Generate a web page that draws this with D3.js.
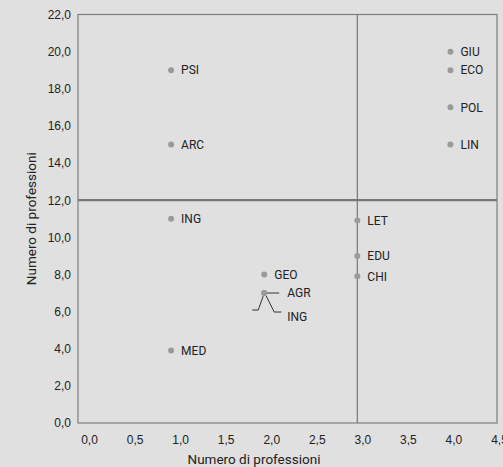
<!DOCTYPE html>
<html>
<head>
<meta charset="utf-8">
<script src="https://cdn.jsdelivr.net/npm/d3@7"></script>
<style>
  html, body { margin: 0; padding: 0; background: #e0e0e0; overflow: hidden; }
  svg { display: block; font-family: Roboto, "Noto Sans", sans-serif; }
  .tick text { fill: #222; font-size: 12px; }
  .lbl { fill: #222; font-size: 12px; }
</style>
</head>
<body>
<div class="canvas"></div>
<script>
// faculty codes and coordinates
const codes = ["PSI", "ARC", "ING", "MED", "GEO", "AGR", "ING", "LET", "EDU", "CHI", "GIU", "ECO", "POL", "LIN"];
const xValues = [1, 1, 1, 1, 2, 2, 2, 3, 3, 3, 4, 4, 4, 4];
const yValues = [19, 15, 11, 3.9, 8, 7, 7, 10.9, 9, 7.9, 20, 19, 17, 15];

const xTicks = [0, 0.5, 1, 1.5, 2, 2.5, 3, 3.5, 4, 4.5];
const yTicks = [0, 2, 4, 6, 8, 10, 12, 14, 16, 18, 20, 22];
const xSplit = 3;
const ySplit = 12;

const width = 503, height = 467;
const margin = { top: 14.5, right: 6, bottom: 44, left: 78 };

const it = d3.formatLocale({ decimal: ",", thousands: ".", grouping: [3], currency: ["", "€"] });
const fmt = it.format(".1f");

const x = d3.scaleLinear().domain([0, 4.5]).range([margin.left, width - margin.right]);
const y = d3.scaleLinear().domain([0, 22]).range([height - margin.bottom, margin.top]);
// the tick labels of the x axis sit on a slightly shifted band
const xLab = d3.scaleLinear().domain([0, 4.5]).range([89, 499]);

const svg = d3.select(".canvas").append("svg")
  .attr("width", width)
  .attr("height", height);

// axes (labels only, no tick marks)
const xAxis = d3.axisBottom(xLab).tickValues(xTicks).tickFormat(fmt).tickSize(0).tickPadding(12);
const yAxis = d3.axisLeft(y).tickValues(yTicks).tickFormat(fmt).tickSize(0).tickPadding(7);

const gx = svg.append("g").attr("transform", `translate(0, ${y(0)})`).call(xAxis);
gx.select(".domain").remove();

const gy = svg.append("g").attr("transform", `translate(${x(0)}, 0)`).call(yAxis);
gy.select(".domain").remove();

// frame
svg.append("rect")
  .attr("x", x(0)).attr("y", y(22))
  .attr("width", x(4.5) - x(0)).attr("height", y(0) - y(22))
  .attr("fill", "none").attr("stroke", "#7d7d7d").attr("stroke-width", 1.2);

// quadrant lines
svg.append("line")
  .attr("x1", x(0)).attr("x2", x(4.5))
  .attr("y1", y(ySplit)).attr("y2", y(ySplit))
  .attr("stroke", "#777").attr("stroke-width", 2.2);
svg.append("line")
  .attr("x1", x(xSplit)).attr("x2", x(xSplit))
  .attr("y1", y(0)).attr("y2", y(22))
  .attr("stroke", "#777").attr("stroke-width", 1.2);

const data = codes.map((c, i) => ({ code: c, x: xValues[i], y: yValues[i] }));

// leader lines for the two overlapping points (AGR / ING)
const ov = data[5];
const px = x(ov.x), py = y(ov.y);
svg.append("path")
  .attr("d", `M${px + 2},${py} H${px + 15}`)
  .attr("fill", "none").attr("stroke", "#333").attr("stroke-width", 1);
svg.append("path")
  .attr("d", `M${px + 2},${py + 3} L${px + 10},${py + 19} H${px + 17}`)
  .attr("fill", "none").attr("stroke", "#333").attr("stroke-width", 1);
svg.append("path")
  .attr("d", `M${px - 1},${py + 3} L${px - 6},${py + 17} H${px - 12}`)
  .attr("fill", "none").attr("stroke", "#333").attr("stroke-width", 1);

svg.selectAll("circle")
  .data(data)
  .enter()
  .append("circle")
  .attr("cx", (d) => x(d.x))
  .attr("cy", (d) => y(d.y))
  .attr("r", 3)
  .attr("fill", "#9a9a9a");

svg.selectAll(".lbl")
  .data(data)
  .enter()
  .append("text")
  .attr("class", "lbl")
  .attr("x", (d, i) => x(d.x) + (i === 5 || i === 6 ? 23 : 10))
  .attr("y", (d, i) => y(d.y) + (i === 6 ? 24 : 0))
  .attr("dy", "0.35em")
  .text((d) => d.code);

// axis titles
svg.append("text")
  .attr("x", 254).attr("y", 464)
  .attr("text-anchor", "middle")
  .attr("fill", "#222").attr("font-size", 13.5)
  .text("Numero di professioni");
svg.append("text")
  .attr("transform", `translate(36, ${(y(0) + y(22)) / 2}) rotate(-90)`)
  .attr("text-anchor", "middle")
  .attr("fill", "#222").attr("font-size", 13.5)
  .text("Numero di professioni");
</script>
</body>
</html>
